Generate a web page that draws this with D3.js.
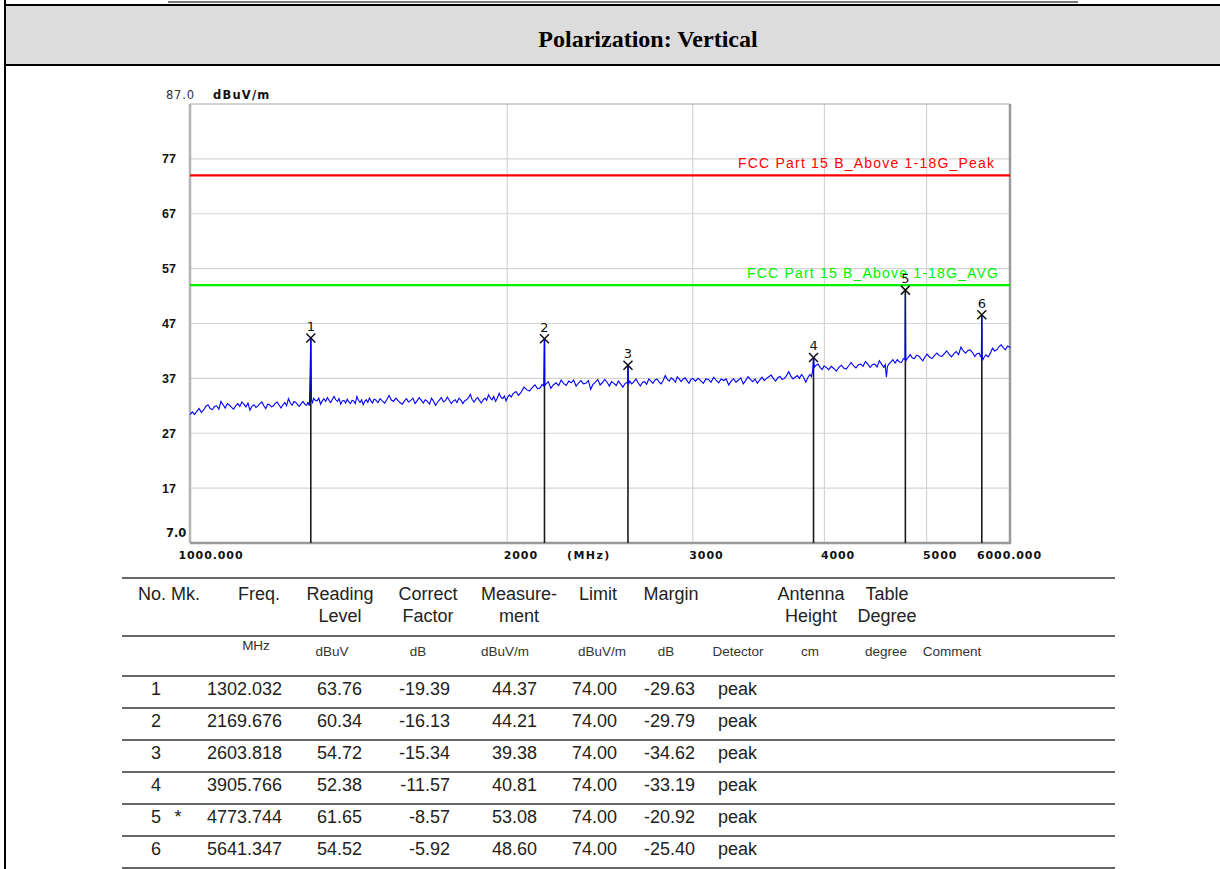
<!DOCTYPE html>
<html>
<head>
<meta charset="utf-8">
<script src="https://cdn.jsdelivr.net/npm/d3@7/dist/d3.min.js"></script>
<style>
  html, body { margin: 0; padding: 0; background: #fff; }
  svg { display: block; }
</style>
</head>
<body>
<div id="page"></div>
<script>
// ---- chart data ----
const pageTitle = "Polarization: Vertical";
const yUnit = "dBuV/m";
const yTop = 87.0, yBottom = 7.0;
const yTicks = [17, 27, 37, 47, 57, 67, 77];
const xTicks = [1000, 2000, 3000, 4000, 5000, 6000];
const xTickLabels = ["1000.000", "2000", "3000", "4000", "5000", "6000.000"];
const xUnit = "(MHz)";

const limitNames = ["FCC Part 15 B_Above 1-18G_Peak", "FCC Part 15 B_Above 1-18G_AVG"];
const limitLevels = [74, 54];

// spectrum trace, [MHz, dBuV/m]
const traceData = [
  [1000,30.4],[1005,30.9],[1010,30.4],[1015,31.0],[1020,31.5],[1025,30.8],[1030,31.2],[1035,31.9],[1040,32.2],[1045,31.5],
  [1050,31.3],[1055,31.9],[1060,32.0],[1065,31.4],[1070,32.8],[1075,32.2],[1080,31.6],[1085,32.4],[1090,32.1],[1095,31.7],
  [1100,31.4],[1105,32.0],[1110,32.4],[1115,31.9],[1120,32.7],[1125,32.3],[1130,31.8],[1135,32.5],[1140,31.2],[1145,31.9],
  [1150,32.2],[1155,31.7],[1160,32.0],[1165,32.4],[1170,32.7],[1175,32.0],[1180,31.5],[1185,32.3],[1190,32.2],[1195,31.8],
  [1200,32.0],[1205,32.5],[1210,32.7],[1215,32.1],[1220,31.6],[1225,32.2],[1230,32.6],[1235,32.0],[1240,33.3],[1245,32.5],
  [1250,32.1],[1255,32.8],[1260,32.6],[1265,32.2],[1270,31.9],[1275,32.4],[1280,32.8],[1285,32.3],[1290,32.1],[1294,32.6],
  [1298,32.0],[1300,37.8],[1302.032,44.37],[1304,33.0],
  [1307,32.6],[1310,33.4],[1315,33.0],[1320,32.9],[1325,33.4],[1330,32.3],[1335,32.9],[1340,33.3],[1345,32.8],[1350,33.5],
  [1355,33.0],[1360,32.6],[1365,33.2],[1370,33.7],[1375,33.1],[1380,32.8],[1385,33.3],[1390,32.3],[1395,32.9],[1400,33.0],
  [1405,32.5],[1410,33.2],[1415,32.7],[1420,32.4],[1425,33.0],[1430,32.9],[1435,32.4],[1440,33.7],[1445,33.0],[1450,32.6],
  [1455,33.1],[1460,32.2],[1465,32.8],[1470,33.1],[1475,32.6],[1480,33.4],[1485,32.9],[1490,32.5],[1495,33.2],[1500,33.1],
  [1508,32.6],[1515,33.3],[1522,32.9],[1530,32.5],[1538,33.2],[1545,33.9],[1552,33.1],[1560,32.8],[1568,33.4],[1575,33.0],
  [1582,32.6],[1590,32.3],[1598,32.9],[1605,33.3],[1612,32.7],[1620,33.0],[1628,33.4],[1635,32.4],[1642,32.9],[1650,33.5],
  [1658,33.0],[1665,32.5],[1672,33.1],[1680,32.8],[1688,32.3],[1695,33.4],[1702,32.9],[1710,32.1],[1718,32.7],[1725,33.1],
  [1732,33.5],[1740,32.7],[1748,33.0],[1755,33.6],[1762,33.0],[1770,32.4],[1778,32.9],[1785,33.1],[1792,32.6],[1800,33.4],
  [1808,33.0],[1815,32.4],[1822,32.9],[1830,33.1],[1838,33.5],[1845,34.1],[1852,33.2],[1860,32.7],[1868,33.2],[1875,33.5],
  [1882,33.0],[1890,32.5],[1898,33.1],[1905,33.4],[1912,33.0],[1920,34.0],[1928,33.4],[1935,33.1],[1942,33.7],[1950,32.8],
  [1958,33.5],[1965,34.3],[1972,33.6],[1980,33.3],[1988,33.8],[1995,32.9],[2002,33.6],
  [2010,34.0],[2018,33.6],[2025,34.2],[2038,34.6],[2050,33.9],[2062,34.5],[2075,35.4],[2088,34.9],[2100,34.7],[2112,35.3],
  [2125,35.8],[2138,35.1],[2150,35.3],[2158,35.9],[2166,35.6],[2168,40.4],[2169.676,44.21],[2171,35.7],
  [2175,35.9],[2188,36.4],[2200,35.2],[2212,35.8],[2225,36.2],[2238,35.7],[2250,36.7],[2262,36.1],[2275,35.7],[2288,36.5],
  [2300,36.2],[2312,36.7],[2325,35.6],[2338,36.2],[2350,36.6],[2362,36.0],[2375,36.1],[2388,36.6],[2400,35.0],[2412,35.9],
  [2425,36.3],[2438,36.8],[2450,35.8],[2462,36.2],[2475,36.8],[2488,36.3],[2500,35.6],[2512,36.4],[2525,36.1],[2538,35.7],
  [2550,36.5],[2562,36.0],[2575,35.4],[2588,36.1],[2600,36.3],
  [2602,36.0],[2603.818,39.38],[2606,35.9],
  [2614,36.5],[2625,36.0],[2638,36.4],[2650,36.9],[2662,36.2],[2675,35.6],[2688,36.3],[2700,36.4],[2712,35.9],[2725,36.9],
  [2738,36.5],[2750,36.1],[2762,36.7],[2775,36.9],[2788,36.3],[2800,36.0],[2812,36.6],[2825,37.5],[2838,36.8],[2850,36.5],
  [2862,37.1],[2875,36.8],[2888,36.3],[2900,37.3],[2912,36.9],[2925,36.4],[2938,36.9],[2950,37.1],[2962,36.6],[2975,36.1],
  [2988,36.8],[3000,37.0],
  [3017,36.5],[3035,37.0],[3052,36.6],[3070,36.1],[3087,36.9],[3105,36.8],[3122,36.3],[3140,37.2],[3157,36.7],[3175,36.2],
  [3192,36.9],[3210,36.6],[3227,36.9],[3245,35.8],[3262,36.5],[3280,36.9],[3297,36.3],[3315,36.7],[3332,37.1],[3350,36.0],
  [3367,36.6],[3385,37.3],[3402,36.8],[3420,36.4],[3437,36.9],[3455,36.1],[3472,36.7],[3490,37.2],[3507,36.6],[3525,37.0],
  [3542,37.3],[3560,37.6],[3577,37.0],[3595,36.5],[3612,37.1],[3630,37.4],[3647,36.8],[3665,37.0],[3682,37.5],[3700,38.2],
  [3717,37.4],[3735,36.9],[3752,37.2],[3770,37.5],[3787,37.0],[3805,37.7],[3822,37.2],[3840,36.3],[3857,37.1],[3875,37.7],
  [3888,37.3],[3900,38.6],[3905.766,40.81],[3912,39.0],
  [3928,39.4],[3945,39.6],[3962,39.0],[3980,38.6],[3997,39.3],[4015,39.0],[4038,38.6],
  [4060,39.2],[4082,38.8],[4105,38.3],[4128,39.0],[4150,39.4],[4172,38.9],[4195,38.7],[4218,39.3],[4240,39.9],[4262,39.3],
  [4285,38.9],[4308,39.5],[4330,39.6],[4352,39.2],[4375,40.1],[4398,39.6],[4420,39.0],[4442,39.5],[4465,39.6],[4488,39.1],
  [4510,40.2],[4532,39.6],[4555,39.0],[4568,39.5],[4580,37.2],[4590,39.1],[4600,39.5],[4622,39.9],[4645,40.4],[4668,39.8],
  [4690,40.4],[4712,40.0],[4735,39.9],[4752,40.6],
  [4770,40.5],[4773.744,53.08],[4778,40.2],
  [4800,40.8],[4825,41.3],[4848,40.7],[4870,40.6],[4892,41.2],[4915,41.1],[4938,40.6],[4960,40.2],[4982,40.9],[5005,41.4],
  [5032,40.9],[5060,40.6],[5088,41.2],[5115,41.6],[5142,41.1],[5170,41.0],[5198,41.5],[5225,42.0],[5252,41.4],[5280,40.9],
  [5308,41.5],[5335,41.9],[5362,41.3],[5390,42.7],[5418,42.0],[5445,41.6],[5472,42.1],[5500,42.2],[5528,41.7],[5555,41.0],
  [5582,41.5],[5610,41.6],[5625,41.0],[5636,41.2],[5641.347,48.60],[5646,40.9],
  [5655,40.4],[5665,40.7],[5692,41.3],[5720,40.9],[5748,41.6],[5775,42.5],[5802,42.0],[5830,42.2],[5858,42.8],[5885,43.1],
  [5912,42.6],[5940,42.2],[5968,42.9],[5995,42.7],[6000,42.5]
];

// ---- marker table ----
const markerNo = ["1", "2", "3", "4", "5", "6"];
const markerFlag = ["", "", "", "", "*", ""];
const markerFreq = [1302.032, 2169.676, 2603.818, 3905.766, 4773.744, 5641.347];
const readingLevel = [63.76, 60.34, 54.72, 52.38, 61.65, 54.52];
const correctFactor = [-19.39, -16.13, -15.34, -11.57, -8.57, -5.92];
const measurement = [44.37, 44.21, 39.38, 40.81, 53.08, 48.60];
const limitValue = [74.00, 74.00, 74.00, 74.00, 74.00, 74.00];
const marginValue = [-29.63, -29.79, -34.62, -33.19, -20.92, -25.40];
const detector = ["peak", "peak", "peak", "peak", "peak", "peak"];

const headLine1 = ["No. Mk.", "Freq.", "Reading", "Correct", "Measure-", "Limit", "Margin", "Antenna", "Table"];
const headLine2 = ["", "", "Level", "Factor", "ment", "", "", "Height", "Degree"];
const unitLabels = ["MHz", "dBuV", "dB", "dBuV/m", "dBuV/m", "dB", "Detector", "cm", "degree", "Comment"];

// ---- drawing ----
const W = 1220, H = 869;
const svg = d3.select("#page").append("svg")
  .attr("width", W).attr("height", H);

// page frame: leftover rule, title band
svg.append("line").attr("x1", 168).attr("x2", 1078).attr("y1", 2).attr("y2", 2)
  .attr("stroke", "#7a7a7a").attr("stroke-width", 2);
svg.append("rect").attr("x", 5).attr("y", 5).attr("width", W).attr("height", 60)
  .attr("fill", "#dcdcdc");
svg.append("line").attr("x1", 5).attr("x2", W).attr("y1", 5).attr("y2", 5)
  .attr("stroke", "#000").attr("stroke-width", 2);
svg.append("line").attr("x1", 5).attr("x2", W).attr("y1", 65).attr("y2", 65)
  .attr("stroke", "#000").attr("stroke-width", 2);
svg.append("line").attr("x1", 5).attr("x2", 5).attr("y1", 0).attr("y2", H)
  .attr("stroke", "#000").attr("stroke-width", 2);
svg.append("text").attr("x", 648).attr("y", 47)
  .attr("text-anchor", "middle")
  .style("font-family", "'Liberation Serif', 'Times New Roman', serif")
  .style("font-weight", "bold").style("font-size", "24px")
  .text(pageTitle);

// plot area
const plot = { left: 190, right: 1010, top: 104, bottom: 543 };
const x = d3.scaleLog().domain([xTicks[0], xTicks[xTicks.length - 1]]).range([plot.left, plot.right]);
const y = d3.scaleLinear().domain([yBottom, yTop]).range([plot.bottom, plot.top]);

const chart = svg.append("g");
const smallFont = "'DejaVu Sans', Verdana, sans-serif";

// grid
chart.append("g").selectAll("line").data(yTicks).join("line")
  .attr("x1", plot.left).attr("x2", plot.right)
  .attr("y1", d => y(d)).attr("y2", d => y(d))
  .attr("stroke", "#d4d4d4").attr("stroke-width", 1.2);
chart.append("g").selectAll("line").data(xTicks.slice(1, -1)).join("line")
  .attr("x1", d => x(d)).attr("x2", d => x(d))
  .attr("y1", plot.top).attr("y2", plot.bottom)
  .attr("stroke", "#d4d4d4").attr("stroke-width", 1.2);

// frame
chart.append("line").attr("x1", plot.left).attr("x2", plot.right).attr("y1", plot.top).attr("y2", plot.top)
  .attr("stroke", "#a8a8a8").attr("stroke-width", 1);
chart.append("line").attr("x1", plot.left).attr("x2", plot.left).attr("y1", plot.top).attr("y2", plot.bottom)
  .attr("stroke", "#b4b4b4").attr("stroke-width", 2.5);
chart.append("line").attr("x1", plot.right).attr("x2", plot.right).attr("y1", plot.top).attr("y2", plot.bottom + 1)
  .attr("stroke", "#9a9a9a").attr("stroke-width", 2.5);
chart.append("line").attr("x1", plot.left).attr("x2", plot.right + 1).attr("y1", plot.bottom).attr("y2", plot.bottom)
  .attr("stroke", "#9a9a9a").attr("stroke-width", 2.5);

// y axis labels
const yAxis = d3.axisLeft(y).tickValues(yTicks).tickSize(0).tickPadding(14);
const yAxisG = chart.append("g").attr("transform", `translate(${plot.left},0)`).call(yAxis);
yAxisG.select(".domain").remove();
yAxisG.selectAll("text")
  .style("font-family", "'Liberation Sans', Arial, sans-serif")
  .style("font-weight", "bold").style("font-size", "12.5px").attr("fill", "#111");

chart.append("text").attr("x", 166).attr("y", y(yTop) - 5)
  .style("font-family", smallFont).style("font-size", "11.5px").style("letter-spacing", "0.8px")
  .attr("fill", "#333").text(yTop.toFixed(1));
chart.append("text").attr("x", 213).attr("y", y(yTop) - 5)
  .style("font-family", smallFont).style("font-size", "11.5px").style("font-weight", "bold")
  .style("letter-spacing", "1.2px").attr("fill", "#111").text(yUnit);
chart.append("text").attr("x", 166).attr("y", y(yBottom) - 6)
  .style("font-family", smallFont).style("font-size", "11.5px").style("font-weight", "bold")
  .attr("fill", "#111").text(yBottom.toFixed(1));

// x axis labels
const xAxis = d3.axisBottom(x).tickValues(xTicks).tickSize(0).tickPadding(8)
  .tickFormat((d, i) => xTickLabels[i]);
const xAxisG = chart.append("g").attr("transform", `translate(0,${plot.bottom})`).call(xAxis);
xAxisG.select(".domain").remove();
xAxisG.selectAll("text")
  .style("font-family", smallFont).style("font-weight", "bold")
  .style("font-size", "11px").style("letter-spacing", "0.9px").attr("fill", "#111")
  .attr("text-anchor", (d, i) => i === xTicks.length - 1 ? "middle" : "start")
  .attr("dx", (d, i) => i === 0 ? -12 : (i === xTicks.length - 1 ? -1 : -4));
chart.append("text").attr("x", 567).attr("y", plot.bottom + 16)
  .style("font-family", smallFont).style("font-weight", "bold")
  .style("font-size", "11px").style("letter-spacing", "1.4px").attr("fill", "#111")
  .text(xUnit);

// limit lines
const limitColors = ["#ff0000", "#00ee00"];
limitLevels.forEach((lv, i) => {
  chart.append("line").attr("x1", plot.left).attr("x2", plot.right)
    .attr("y1", y(lv)).attr("y2", y(lv))
    .attr("stroke", limitColors[i]).attr("stroke-width", 2.2);
  chart.append("text").attr("x", i === 0 ? 994 : 998).attr("y", y(lv) - 7)
    .attr("text-anchor", "end")
    .style("font-family", "'Liberation Sans', Arial, sans-serif").style("font-size", "14px")
    .attr("textLength", i === 0 ? 256 : 251).attr("lengthAdjust", "spacing")
    .attr("fill", limitColors[i]).text(limitNames[i]);
});

// marker drop lines
chart.append("g").selectAll("line").data(markerFreq).join("line")
  .attr("x1", d => x(d)).attr("x2", d => x(d))
  .attr("y1", (d, i) => y(measurement[i])).attr("y2", plot.bottom)
  .attr("stroke", "#1a1a1a").attr("stroke-width", 1.6);

// trace
const line = d3.line().x(d => x(d[0])).y(d => y(d[1]));
chart.append("path").datum(traceData)
  .attr("d", line).attr("fill", "none")
  .attr("stroke", "#0000ff").attr("stroke-width", 1.1);

// marker symbols and numbers
const mk = chart.append("g").selectAll("g").data(markerFreq).join("g")
  .attr("transform", (d, i) => `translate(${x(d)},${y(measurement[i])})`);
mk.append("path").attr("d", "M-4.5,-4.5L4.5,4.5M4.5,-4.5L-4.5,4.5")
  .attr("stroke", "#111").attr("stroke-width", 1.5).attr("fill", "none");
mk.append("text").attr("y", -7).attr("text-anchor", "middle")
  .style("font-family", smallFont).style("font-size", "13px").attr("fill", "#111")
  .text((d, i) => markerNo[i]);

// ---- marker table ----
const tbl = svg.append("g");
const tableFont = "'Liberation Sans', Arial, sans-serif";
const tblLeft = 122, tblRight = 1115;
const ruleYs = [578, 636, 676, 708, 740, 772, 804, 836, 868];
tbl.selectAll("line").data(ruleYs).join("line")
  .attr("x1", tblLeft).attr("x2", tblRight)
  .attr("y1", d => d).attr("y2", d => d)
  .attr("stroke", "#333").attr("stroke-width", 1.6);

const headX = [138, 259, 340, 428, 519, 598, 671, 811, 887];
tbl.append("g").selectAll("text").data(headLine1).join("text")
  .attr("x", (d, i) => headX[i]).attr("y", 600).attr("text-anchor", (d, i) => i === 0 ? "start" : "middle")
  .style("font-family", tableFont).style("font-size", "18px").attr("fill", "#222")
  .text(d => d);
tbl.append("g").selectAll("text").data(headLine2).join("text")
  .attr("x", (d, i) => headX[i]).attr("y", 622).attr("text-anchor", "middle")
  .style("font-family", tableFont).style("font-size", "18px").attr("fill", "#222")
  .text(d => d);

const unitX = [256, 332, 418, 505, 602, 666, 738, 810, 886, 952];
tbl.append("g").selectAll("text").data(unitLabels).join("text")
  .attr("x", (d, i) => unitX[i]).attr("y", (d, i) => i === 0 ? 650 : 656).attr("text-anchor", "middle")
  .style("font-family", tableFont).style("font-size", "13.5px").attr("fill", "#333")
  .text(d => d);

const columns = [
  { vals: markerNo, x: 161, anchor: "end" },
  { vals: markerFlag, x: 178, anchor: "middle" },
  { vals: markerFreq.map(v => v.toFixed(3)), x: 282, anchor: "end" },
  { vals: readingLevel.map(v => v.toFixed(2)), x: 362, anchor: "end" },
  { vals: correctFactor.map(v => v.toFixed(2)), x: 450, anchor: "end" },
  { vals: measurement.map(v => v.toFixed(2)), x: 537, anchor: "end" },
  { vals: limitValue.map(v => v.toFixed(2)), x: 617, anchor: "end" },
  { vals: marginValue.map(v => v.toFixed(2)), x: 695, anchor: "end" },
  { vals: detector, x: 718, anchor: "start" }
];
columns.forEach(col => {
  tbl.append("g").selectAll("text").data(col.vals).join("text")
    .attr("x", col.x).attr("y", (d, i) => ruleYs[3 + i] - 13)
    .attr("text-anchor", col.anchor)
    .style("font-family", tableFont).style("font-size", "18px").attr("fill", "#222")
    .text(d => d);
});
</script>
</body>
</html>
